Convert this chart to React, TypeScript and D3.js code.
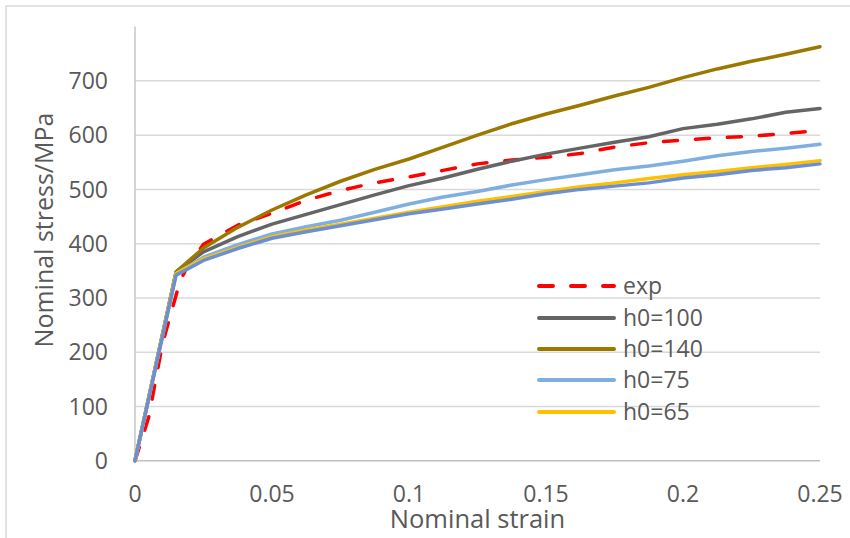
import React from "react";
import * as d3 from "d3";

const strain = [0, 0.015, 0.025, 0.0375, 0.05, 0.0625, 0.075, 0.0875, 0.1, 0.1125, 0.125, 0.1375, 0.15, 0.1625, 0.175, 0.1875, 0.2, 0.2125, 0.225, 0.2375, 0.25];

const expStrain = [0, 0.005, 0.01, 0.0165, 0.019, 0.025, 0.0375, 0.05, 0.0625, 0.075, 0.0875, 0.1, 0.1125, 0.125, 0.1375, 0.15, 0.1625, 0.175, 0.1875, 0.2, 0.2125, 0.225, 0.2375, 0.25];
const expStress = [0, 80, 215, 332, 356, 399, 434, 456, 480, 498, 512, 523, 535, 547, 554, 559, 566, 578, 586, 591, 595, 598, 603, 609];

const h100 = [0, 348, 385, 413, 436, 454, 472, 490, 507, 521, 537, 552, 565, 576, 587, 597, 612, 620, 630, 642, 649];
const h140 = [0, 348, 392, 430, 462, 490, 515, 537, 556, 578, 600, 621, 639, 655, 672, 688, 706, 722, 736, 749, 763];
const h75 = [0, 345, 375, 398, 418, 431, 443, 458, 473, 486, 496, 508, 518, 527, 536, 543, 552, 562, 570, 576, 583];
const h65 = [0, 345, 372, 393, 413, 425, 436, 447, 458, 468, 478, 487, 496, 505, 512, 520, 527, 533, 540, 546, 553];
const hBlue = [0, 342, 369, 391, 410, 422, 433, 444, 455, 464, 473, 482, 492, 500, 506, 512, 521, 527, 535, 540, 547];

const xTicks = [0, 0.05, 0.1, 0.15, 0.2, 0.25];
const xTickLabels = ["0", "0.05", "0.1", "0.15", "0.2", "0.25"];
const yTicks = [0, 100, 200, 300, 400, 500, 600, 700];

const legendNames = ["exp", "h0=100", "h0=140", "h0=75", "h0=65"];

const FONT = "'Open Sans', sans-serif";
const TXT = "#595959";

export default function App() {
  const W = 850, H = 538;
  const left = 135, right = 820, top = 26.6, bottom = 460.7;
  const x = d3.scaleLinear().domain([0, 0.25]).range([left, right]);
  const y = d3.scaleLinear().domain([0, 800]).range([bottom, top]);
  const line = d3.line<[number, number]>().x(d => x(d[0])).y(d => y(d[1]));
  const mk = (xs: number[], ys: number[]) => line(xs.map((v, i) => [v, ys[i]] as [number, number])) || "";

  const series = [
    { name: "exp", d: mk(expStrain, expStress), color: "#FF0000", dash: "14 18" },
    { name: "h0=100", d: mk(strain, h100), color: "#656565" },
    { name: "h0=140", d: mk(strain, h140), color: "#9C7800" },
    { name: "h0=75", d: mk(strain, h75), color: "#7EAFDF" },
    { name: "h0=65", d: mk(strain, h65), color: "#FFC000" },
    { name: "", d: mk(strain, hBlue), color: "#6B8FD3" },
  ];

  const legY = [286, 318, 349, 380, 412];

  return (
    <svg width={W} height={H} style={{ position: "absolute", left: 0, top: 0, background: "#fff" }} fontFamily={FONT}>
      <rect x={6} y={6} width={W + 20} height={H + 20} fill="#fff" stroke="#d9d9d9" strokeWidth={1.5} />
      {yTicks.filter(t => t > 0).map(t => (
        <line key={t} x1={left} x2={right} y1={y(t)} y2={y(t)} stroke="#d9d9d9" strokeWidth={1.5} />
      ))}
      <line x1={left} x2={left} y1={top} y2={bottom} stroke="#c6c6c6" strokeWidth={1.5} />
      <line x1={left} x2={right} y1={bottom} y2={bottom} stroke="#bfbfbf" strokeWidth={1.5} />
      {yTicks.map(t => (
        <text key={t} x={108} y={y(t)} dy="0.36em" textAnchor="end" fontSize={23} fill={TXT}>{t}</text>
      ))}
      {xTicks.map((t, i) => (
        <text key={t} x={x(t)} y={502} textAnchor="middle" fontSize={23} fill={TXT}>{xTickLabels[i]}</text>
      ))}
      <text x={(left + right) / 2} y={528} textAnchor="middle" fontSize={25.5} fill={TXT}>Nominal strain</text>
      <text transform="translate(53,230) rotate(-90)" textAnchor="middle" fontSize={25} fill={TXT}>Nominal stress/MPa</text>
      {series.map((s, i) => (
        <path key={i} d={s.d} fill="none" stroke={s.color} strokeWidth={3.5} strokeLinejoin="round" strokeLinecap="round" strokeDasharray={s.dash} />
      ))}
      {legendNames.map((n, i) => (
        <g key={n}>
          <line x1={539} x2={614} y1={legY[i]} y2={legY[i]} stroke={series[i].color} strokeWidth={4} strokeLinecap="round" strokeDasharray={series[i].dash} />
          <text x={623} y={legY[i]} dy="0.36em" fontSize={23} fill={TXT}>{n}</text>
        </g>
      ))}
    </svg>
  );
}
